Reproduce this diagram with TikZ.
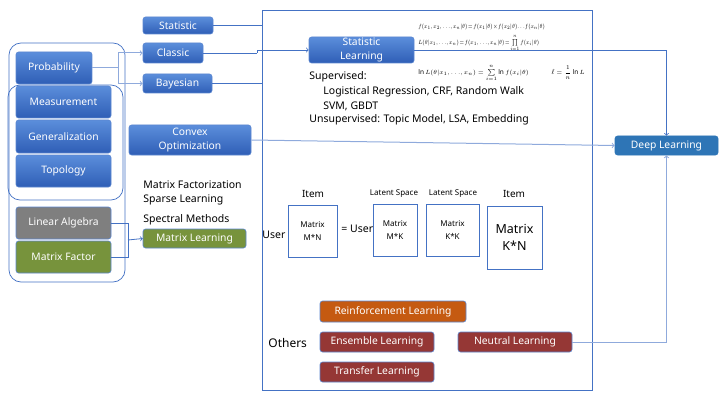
\documentclass[tikz,border=0pt]{standalone}
\usepackage{amsmath}
\usepackage{graphicx}
\usepackage{fontspec}
\setmainfont{Noto Sans}
\usetikzlibrary{arrows,calc,positioning}
\definecolor{bluetop}{HTML}{5B8EDB}
\definecolor{bluebot}{HTML}{2F5EB6}
\definecolor{boxline}{HTML}{5B86D0}
\definecolor{conncol}{HTML}{4472C4}
\definecolor{lightcol}{HTML}{8FAADC}
\definecolor{deepcol}{HTML}{2E75B6}
\definecolor{greencol}{HTML}{77933C}
\definecolor{graycol}{HTML}{7F7F7F}
\definecolor{orangecol}{HTML}{C55A11}
\definecolor{redcol}{HTML}{953735}

\begin{document}
\begin{tikzpicture}[x=1pt,y=-1pt,>=to,line width=0.8pt]
    \tikzstyle{box}=[rounded corners=2.5pt, draw=boxline, line width=0.6pt, text=white, align=center, inner sep=0pt, font=\fontsize{10.3}{14}\selectfont]
    \tikzstyle{bluebox}=[box, top color=bluetop, bottom color=bluebot]
    \tikzstyle{flatbox}=[box, fill=#1]
    \tikzstyle{conn}=[draw=conncol, line width=0.8pt]
    \tikzstyle{light}=[draw=lightcol, line width=1pt]
    \tikzstyle{group}=[draw=conncol, rounded corners=12pt, line width=0.7pt]
    \tikzstyle{mbox}=[draw=conncol, line width=1pt, inner sep=0pt, align=center, font=\fontsize{8}{13}\selectfont]
    \tikzstyle{txt}=[inner sep=0pt, anchor=west, font=\fontsize{10.5}{14}\selectfont]
    \tikzstyle{small}=[inner sep=0pt, font=\fontsize{8}{10}\selectfont]
    \tikzstyle{eq}=[inner sep=0pt, anchor=west, font=\fontsize{6.5}{7}\selectfont]

    \useasboundingbox (0,0) rectangle (728,401);

    \node[draw=conncol, line width=0.8pt, minimum width=330pt, minimum height=380pt, inner sep=0pt] (main) at (427,200) {};

    \draw[group] (9,43) rectangle (125,282);
    \draw[group] (8,85) rectangle (123,200);

    \node[bluebox, minimum width=70pt, minimum height=17pt] (stat)    at (178,25.5) {Statistic};
    \node[bluebox, minimum width=60pt, minimum height=20pt] (classic) at (173,53)   {Classic};
    \node[bluebox, minimum width=69pt, minimum height=19pt] (bayes)   at (177.5,83.5) {Bayesian};

    \node[bluebox, minimum width=76pt, minimum height=32pt] (prob)  at (54,68)     {Probability};
    \node[bluebox, minimum width=95pt, minimum height=32pt] (meas)  at (63.5,102)  {Measurement};
    \node[bluebox, minimum width=95pt, minimum height=33pt] (gener) at (63.5,136.5) {Generalization};
    \node[bluebox, minimum width=95pt, minimum height=32pt] (topo)  at (63.5,171)  {Topology};
    \node[flatbox=graycol,  minimum width=95pt, minimum height=32pt] (linalg)  at (63.5,223) {Linear Algebra};
    \node[flatbox=greencol, minimum width=95pt, minimum height=32pt] (mfactor) at (63.5,257) {Matrix Factor};

    \node[bluebox, minimum width=122pt, minimum height=30pt] (convex) at (190,140) {Convex\\Optimization};
    \node[flatbox=greencol, minimum width=103pt, minimum height=19pt] (mlearn) at (194.5,238.5) {Matrix Learning};

    \node[txt] (mf) at (143,185) {Matrix Factorization};
    \node[txt] (sl) at (143,200) {Sparse Learning};
    \node[txt] (sm) at (143,220) {Spectral Methods};

    \node[bluebox, minimum width=105pt, minimum height=26pt] (slearn) at (361.5,50) {Statistic\\Learning};

    \node[eq] (eq1) at (418,27) {\scalebox{0.8}[1]{$f(x_1,x_2,{\ldots},x_n|\theta)\!=\!f(x_1|\theta)\!\times\! f(x_2|\theta){\ldots}f(x_n|\theta)$}};
    \node[eq] (eq2) at (418,43) {\scalebox{0.8}[1]{$L(\theta|x_1,{\ldots},x_n)\!=\!f(x_1,{\ldots},x_n|\theta)\!=\!\prod\limits_{i=1}^{n}f(x_i|\theta)$}};
    \node[eq] (eq3) at (418,73) {$\ln L(\theta|x_1,{\ldots},x_n)=\sum\limits_{i=1}^{n}\ln f(x_i|\theta)$};
    \node[eq] (eq4) at (551,73) {$\hat{\ell}=\dfrac{1}{n}\ln L$};

    \node[txt] (sup)   at (309,77)  {Supervised:};
    \node[txt] (sup1)  at (323,92)  {Logistical Regression, CRF, Random Walk};
    \node[txt] (sup2)  at (323,106) {SVM, GBDT};
    \node[txt] (unsup) at (309,120) {Unsupervised: Topic Model, LSA, Embedding};

    \node[small, font=\fontsize{10}{12}\selectfont] (item1) at (313,194) {Item};
    \node[small] (lat1) at (394,194) {Latent Space};
    \node[small] (lat2) at (453,194) {Latent Space};
    \node[small, font=\fontsize{10}{12}\selectfont] (item2) at (514,194) {Item};

    \node[txt] (user1) at (262,235) {User};
    \node[txt] (user2) at (341,229) {= User};

    \node[mbox, minimum width=49pt, minimum height=52pt] (m1) at (312.5,231) {Matrix\\M*N};
    \node[mbox, minimum width=44pt, minimum height=52pt] (m2) at (395,230)   {Matrix\\M*K};
    \node[mbox, minimum width=53pt, minimum height=52pt] (m3) at (452.5,230) {Matrix\\K*K};
    \node[mbox, minimum width=55pt, minimum height=63pt, font=\fontsize{12.5}{17}\selectfont] (m4) at (514.5,237.5) {Matrix\\K*N};

    \node[flatbox=orangecol, minimum width=146pt, minimum height=21pt] (reinf)   at (393,311.5) {Reinforcement Learning};
    \node[flatbox=redcol,    minimum width=114pt, minimum height=20pt] (ensem)   at (377,342)   {Ensemble Learning};
    \node[flatbox=redcol,    minimum width=114pt, minimum height=20pt] (transf)  at (377,372)   {Transfer Learning};
    \node[flatbox=redcol,    minimum width=114pt, minimum height=20pt] (neutral) at (515,342)   {Neutral Learning};
    \node[txt, font=\fontsize{12}{14}\selectfont] (others) at (268,343) {Others};

    \node[box, fill=deepcol, draw=deepcol, minimum width=103pt, minimum height=19pt] (deep) at (666.5,145.5) {Deep Learning};

    \coordinate (pj) at (118,68);
    \coordinate (cj) at (257,53);
    \coordinate (mj) at (128,240);

    \draw[light] (prob.east) -- (pj);
    \draw[light,->] (pj) |- (classic.west);
    \draw[light,->] (pj) |- (bayes.west);
    \draw[conn] (stat.east) -- (stat.east -| main.west);
    \draw[conn] (bayes.east) -- (bayes.east -| main.west);
    \draw[conn] (classic.east) -- (cj);
    \draw[conn,->] (cj) |- (slearn.west);
    \draw[conn,->] (slearn.east) -| (deep.north);
    \draw[light,->] (convex.east) -- (deep.west);
    \draw[light,->] (neutral.east) -| (deep.south);
    \draw[conn] (linalg.east) -| (mj);
    \draw[conn] (mfactor.east) -| (mj);
    \draw[conn,->] (mj) -- (mlearn.west);
\end{tikzpicture}
\end{document}
